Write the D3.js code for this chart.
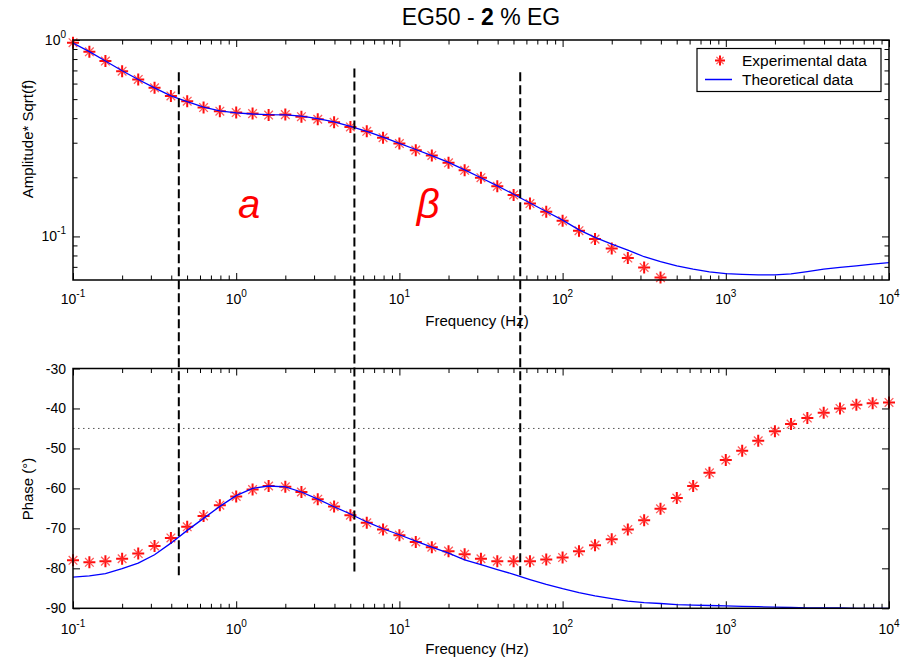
<!DOCTYPE html>
<html>
<head>
<meta charset="utf-8">
<script src="https://cdn.jsdelivr.net/npm/d3@7"></script>
<style>
  html, body { margin: 0; padding: 0; background: #fff; }
  svg { display: block; font-family: "Liberation Sans", Arial, sans-serif; }
</style>
</head>
<body>
<svg id="chart" width="907" height="660"></svg>
<script>
// ---------------- data ----------------
const freqs = [0.1,0.126,0.158,0.2,0.251,0.316,0.398,0.501,0.631,0.794,
  1,1.26,1.58,2,2.51,3.16,3.98,5.01,6.31,7.94,
  10,12.6,15.8,20,25.1,31.6,39.8,50.1,63.1,79.4,
  100,126,158,200,251,316,398,501,631,794,
  1000,1260,1580,2000,2510,3160,3980,5010,6310,7940,10000];

// Amplitude * sqrt(f), experimental (first 37 frequencies)
const ampExp = [0.969,0.871,0.781,0.694,0.630,0.571,0.519,0.488,0.453,0.434,
  0.427,0.422,0.415,0.417,0.407,0.395,0.381,0.361,0.343,0.318,
  0.297,0.275,0.2585,0.237,0.217,0.199,0.180,0.1626,0.147,0.1336,
  0.120,0.1069,0.0969,0.0868,0.0776,0.0695,0.0617];

// Amplitude * sqrt(f), theoretical
const ampTheo = [0.965,0.872,0.782,0.697,0.629,0.570,0.520,0.485,0.455,0.436,
  0.426,0.420,0.417,0.416,0.410,0.398,0.383,0.363,0.343,0.320,
  0.298,0.277,0.258,0.238,0.218,0.199,0.181,0.164,0.148,0.134,
  0.121,0.108,0.0989,0.0914,0.0852,0.0788,0.0745,0.0708,0.0681,0.0660,
  0.0647,0.0641,0.0637,0.0637,0.0644,0.0662,0.0681,0.0695,0.0708,0.0723,0.0736];

// Phase (deg), experimental
const phaseExp = [-78.0,-78.5,-78.2,-77.6,-76.3,-74.4,-72.4,-69.6,-66.9,-64.2,
  -62.0,-60.3,-59.4,-59.6,-60.9,-62.7,-64.5,-66.7,-68.6,-70.3,
  -71.7,-73.4,-74.7,-75.7,-76.5,-77.6,-78.2,-78.2,-78.2,-77.8,
  -77.3,-75.7,-74.2,-72.7,-70.3,-68.0,-65.1,-62.4,-59.4,-56.1,
  -52.9,-50.6,-48.1,-45.7,-43.9,-42.4,-41.1,-40.0,-39.1,-38.7,-38.5];

// Phase (deg), theoretical
const phaseTheo = [-82.2,-81.9,-81.3,-80.1,-78.7,-76.6,-73.7,-70.5,-67.5,-64.5,
  -61.8,-60.0,-59.4,-59.6,-60.9,-62.7,-64.6,-66.4,-68.4,-70.1,
  -71.6,-73.2,-74.7,-76.2,-77.9,-79.1,-80.3,-81.5,-82.8,-84.0,
  -85.1,-86.1,-86.9,-87.6,-88.2,-88.6,-88.8,-89.1,-89.2,-89.3,
  -89.4,-89.5,-89.6,-89.7,-89.8,-89.9,-89.9,-89.9,-90.0,-90.0,-90.0];

// tick labels
const xTickExps = [-1, 0, 1, 2, 3, 4];
const ampTickExps = [-1, 0];
const phaseTicks = [-90, -80, -70, -60, -50, -40, -30];

// region boundaries (dashed lines): frequency, top amplitude, bottom phase
const boundFreq = [0.445, 5.3, 55];
const boundTopAmp = [0.686, 0.717, 0.686];
const boundBottomPhase = [-82.3, -81.2, -82.3];

const regionLabels = ["a", "β"];
const regionLabelFreq = [1.2, 15];
const regionLabelAmp = [0.079, 0.079];

const refPhase = -45;

// ---------------- layout ----------------
const svg = d3.select("#chart");
const L = 73, R = 889;
const topY0 = 40, topY1 = 280;
const botY0 = 368.5, botY1 = 608.3;

const x = d3.scaleLog().domain([0.1, 1e4]).range([L, R]);
const yAmp = d3.scaleLog().domain([0.06, 1]).range([topY1, topY0]);
const yPh = d3.scaleLinear().domain([-90, -30]).range([botY1, botY0]);

const majorX = xTickExps.map(e => Math.pow(10, e));
const minorX = [];
for (let e = -1; e < 4; e++) for (let m = 2; m <= 9; m++) minorX.push(m * Math.pow(10, e));
const majorAmp = ampTickExps.map(e => Math.pow(10, e));
const minorAmp = [0.07, 0.08, 0.09, 0.2, 0.3, 0.4, 0.5, 0.6, 0.7, 0.8, 0.9];

function tickAxis(axisFn, scale, values, size, transform) {
  const g = svg.append("g").attr("transform", transform)
    .call(axisFn(scale).tickValues(values).tickSize(-size).tickSizeOuter(0).tickFormat(() => ""));
  g.select(".domain").remove();
  g.selectAll(".tick line").attr("stroke", "#000").attr("stroke-width", 1);
  return g;
}

function drawFrame(y0, y1, yScale, majorY, minorY) {
  svg.append("rect").attr("x", L).attr("y", y0).attr("width", R - L).attr("height", y1 - y0)
    .attr("fill", "#fff");
  tickAxis(d3.axisBottom, x, majorX, 7, `translate(0,${y1})`);
  tickAxis(d3.axisBottom, x, minorX, 4.5, `translate(0,${y1})`);
  tickAxis(d3.axisTop, x, majorX, 7, `translate(0,${y0})`);
  tickAxis(d3.axisTop, x, minorX, 4.5, `translate(0,${y0})`);
  tickAxis(d3.axisLeft, yScale, majorY, 7, `translate(${L},0)`);
  tickAxis(d3.axisRight, yScale, majorY, 7, `translate(${R},0)`);
  if (minorY) {
    tickAxis(d3.axisLeft, yScale, minorY, 4.5, `translate(${L},0)`);
    tickAxis(d3.axisRight, yScale, minorY, 4.5, `translate(${R},0)`);
  }
}

function powLabel(px, py, exp, anchor) {
  const t = svg.append("text").attr("x", px).attr("y", py)
    .attr("text-anchor", anchor).attr("font-size", 14).attr("fill", "#000");
  t.append("tspan").text("10");
  t.append("tspan").attr("dy", -7).attr("font-size", 10).text(exp);
}

// frames
drawFrame(topY0, topY1, yAmp, majorAmp, minorAmp);
drawFrame(botY0, botY1, yPh, phaseTicks, null);

// x tick labels
xTickExps.forEach(e => {
  powLabel(x(Math.pow(10, e)), 304, e, "middle");
  powLabel(x(Math.pow(10, e)), 634, e, "middle");
});
// y tick labels (amplitude)
ampTickExps.forEach(e => powLabel(66, yAmp(Math.pow(10, e)) + 5, e, "end"));
// y tick labels (phase)
phaseTicks.forEach(v => {
  svg.append("text").attr("x", 66).attr("y", yPh(v) + 5).attr("text-anchor", "end")
    .attr("font-size", 14).text(v);
});

// axis titles
svg.append("text").attr("x", 477).attr("y", 326).attr("text-anchor", "middle")
  .attr("font-size", 15).text("Frequency (Hz)");
svg.append("text").attr("x", 477).attr("y", 654).attr("text-anchor", "middle")
  .attr("font-size", 15).text("Frequency (Hz)");
svg.append("text").attr("transform", "translate(33,139) rotate(-90)").attr("text-anchor", "middle")
  .attr("font-size", 15).text("Amplitude* Sqrt(f)");
svg.append("text").attr("transform", "translate(33,489) rotate(-90)").attr("text-anchor", "middle")
  .attr("font-size", 15).text("Phase (°)");

// title
const title = svg.append("text").attr("x", 481).attr("y", 25).attr("text-anchor", "middle")
  .attr("font-size", 23);
title.append("tspan").text("EG50 - ");
title.append("tspan").attr("font-weight", "bold").text("2");
title.append("tspan").text(" % EG");

// reference dotted line at -45
svg.append("line").attr("x1", L).attr("x2", R).attr("y1", yPh(refPhase)).attr("y2", yPh(refPhase))
  .attr("stroke", "#555").attr("stroke-width", 1).attr("stroke-dasharray", "1.5,3.5");

// clip paths
const defs = svg.append("defs");
defs.append("clipPath").attr("id", "clipTop").append("rect")
  .attr("x", L).attr("y", topY0).attr("width", R - L).attr("height", topY1 - topY0);
defs.append("clipPath").attr("id", "clipBot").append("rect")
  .attr("x", L).attr("y", botY0).attr("width", R - L).attr("height", botY1 - botY0 + 1);

// star marker
function star(g, cx, cy, s) {
  const d = s * 0.72;
  g.append("path")
    .attr("d", `M${cx - s},${cy}L${cx + s},${cy}M${cx},${cy - s}L${cx},${cy + s}`)
    .attr("stroke", "#ff0000").attr("stroke-width", 2).attr("fill", "none").attr("opacity", 0.95);
  g.append("path")
    .attr("d", `M${cx - d},${cy - d}L${cx + d},${cy + d}M${cx - d},${cy + d}L${cx + d},${cy - d}`)
    .attr("stroke", "#ff3030").attr("stroke-width", 1.3).attr("fill", "none").attr("opacity", 0.8);
}

// experimental markers
const gStars = svg.append("g");
ampExp.forEach((v, i) => star(gStars, x(freqs[i]), yAmp(v), 6));
phaseExp.forEach((v, i) => star(gStars, x(freqs[i]), yPh(v), 6));

// theoretical lines
const lineAmp = d3.line().x((d, i) => x(freqs[i])).y(d => yAmp(d));
const linePh = d3.line().x((d, i) => x(freqs[i])).y(d => yPh(d));
svg.append("path").attr("d", lineAmp(ampTheo)).attr("clip-path", "url(#clipTop)")
  .attr("fill", "none").attr("stroke", "#0000ff").attr("stroke-width", 1.3);
svg.append("path").attr("d", linePh(phaseTheo)).attr("clip-path", "url(#clipBot)")
  .attr("fill", "none").attr("stroke", "#0000ff").attr("stroke-width", 1.3);

// frame borders on top
[[topY0, topY1], [botY0, botY1]].forEach(([y0, y1]) => {
  svg.append("rect").attr("x", L).attr("y", y0).attr("width", R - L).attr("height", y1 - y0)
    .attr("fill", "none").attr("stroke", "#000").attr("stroke-width", 1.5);
});

// dashed region boundaries
boundFreq.forEach((f, i) => {
  svg.append("line").attr("x1", x(f)).attr("x2", x(f))
    .attr("y1", yAmp(boundTopAmp[i])).attr("y2", yPh(boundBottomPhase[i]))
    .attr("stroke", "#000").attr("stroke-width", 2).attr("stroke-dasharray", "9,4");
});

// region labels
regionLabels.forEach((t, i) => {
  svg.append("text").attr("x", x(regionLabelFreq[i])).attr("y", 218)
    .attr("text-anchor", "middle").attr("font-size", 40).attr("font-style", "italic")
    .attr("fill", "#ff0000").text(t);
});

// legend
const lg = svg.append("g");
lg.append("rect").attr("x", 697).attr("y", 48.5).attr("width", 184).attr("height", 43)
  .attr("fill", "#fff").attr("stroke", "#000").attr("stroke-width", 1.2);
star(lg, 720, 60.5, 5);
lg.append("line").attr("x1", 705).attr("x2", 732).attr("y1", 79.5).attr("y2", 79.5)
  .attr("stroke", "#0000ff").attr("stroke-width", 1.5);
lg.append("text").attr("x", 742).attr("y", 66).attr("font-size", 15.5).text("Experimental data");
lg.append("text").attr("x", 742).attr("y", 84.5).attr("font-size", 15.5).text("Theoretical data");
</script>
</body>
</html>
